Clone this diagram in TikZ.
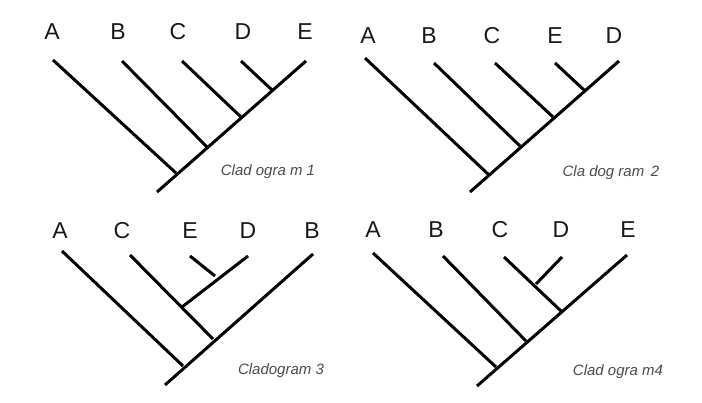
\documentclass[tikz,border=0pt]{standalone}
\usepackage{fontspec}
\setmainfont{Liberation Sans}
\begin{document}
\begin{tikzpicture}[x=1pt,y=-1pt,
  br/.style={line width=3pt,black},
  lab/.style={font=\fontsize{23}{24}\selectfont,text=black!90},
  captxt/.style={font=\itshape\fontsize{15}{16}\selectfont,text=black!70,anchor=center}]
\useasboundingbox (0,0) rectangle (702,402);
% Cladogram 1
\foreach \n/\x in {A/52,B/118,C/178,D/243,E/305}{\node[lab] (l1\n) at (\x,32) {\n};}
\coordinate (r1) at (157,192); \coordinate (t1) at (306,61);
\draw[br] (r1) -- (t1);
\draw[br] (53,60) -- (176,173);
\draw[br] (122,61) -- (207,147);
\draw[br] (182,61) -- (241,117);
\draw[br] (241,61) -- (272,90);
\node[captxt] (c1) at (268,172) {Clad ogra m 1};
% Cladogram 2
\foreach \n/\x in {A/368,B/429,C/492,E/555,D/614}{\node[lab] (l2\n) at (\x,36) {\n};}
\coordinate (r2) at (470,192); \coordinate (t2) at (619,61);
\draw[br] (r2) -- (t2);
\draw[br] (365,58) -- (489,175);
\draw[br] (434,63) -- (520,146);
\draw[br] (495,63) -- (553,117);
\draw[br] (555,63) -- (584,90);
\node[captxt] (c2) at (611,173) {Cla dog ram\, 2};
% Cladogram 3
\foreach \n/\x in {A/60,C/122,E/190,D/248,B/312}{\node[lab] (l3\n) at (\x,231) {\n};}
\coordinate (r3) at (165,385); \coordinate (t3) at (313,254);
\draw[br] (r3) -- (t3);
\draw[br] (62,251) -- (183,366);
\draw[br] (130,255) -- (213,339);
\draw[br] (182,307) -- (248,256);
\draw[br] (190,256) -- (215,276);
\node[captxt] (c3) at (281,371) {Cladogram 3};
% Cladogram 4
\foreach \n/\x in {A/373,B/436,C/500,D/561,E/628}{\node[lab] (l4\n) at (\x,230) {\n};}
\coordinate (r4) at (477,386); \coordinate (t4) at (627,255);
\draw[br] (r4) -- (t4);
\draw[br] (373,253) -- (496,367);
\draw[br] (443,256) -- (526,341);
\draw[br] (504,257) -- (561,311);
\draw[br] (562,257) -- (536,284);
\node[captxt] (c4) at (618,372) {Clad ogra m4};
\end{tikzpicture}
\end{document}
